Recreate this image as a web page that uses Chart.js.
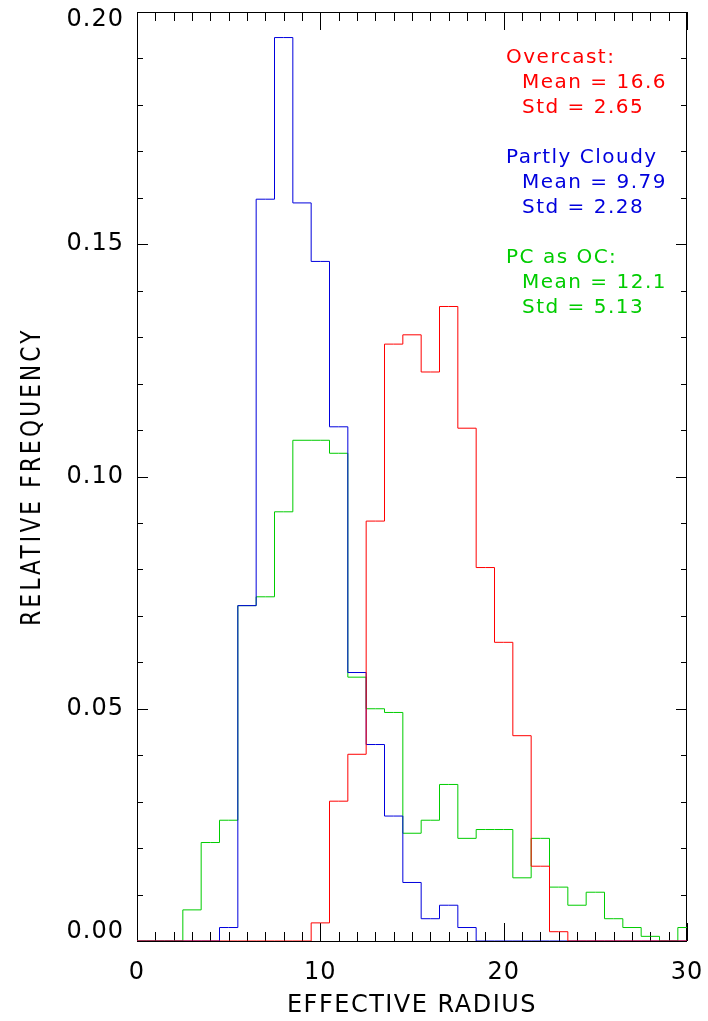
<!DOCTYPE html>
<html>
<head>
<meta charset="utf-8">
<script src="https://cdn.jsdelivr.net/npm/chart.js@4/dist/chart.umd.min.js"></script>
<style>
  html, body { margin: 0; padding: 0; background: #fff; }
  canvas { display: block; }
</style>
</head>
<body>
<canvas id="hist" width="708" height="1021"></canvas>
<script>
// bin centres of effective radius (one unit wide)
const radius = [0,1,2,3,4,5,6,7,8,9,10,11,12,13,14,15,16,17,18,19,20,21,22,23,24,25,26,27,28,29,30];

// relative frequency per bin
const overcast = [0,0,0,0,0,0,0,0,0,0,0.0039,0.0301,0.0402,0.0904,0.1285,0.1305,0.1225,0.1366,0.1104,0.0804,0.0643,0.0442,0.0161,0.0020,0,0,0,0,0,0,0];
const partlyCloudy = [0,0,0,0,0,0.0029,0.0722,0.1597,0.1945,0.1589,0.1463,0.1107,0.0578,0.0423,0.0269,0.0126,0.0048,0.0077,0.0029,0,0,0,0,0,0,0,0,0,0,0,0];
const pcAsOc = [0,0,0,0.0067,0.0212,0.0260,0.0722,0.0741,0.0924,0.1078,0.1078,0.1050,0.0568,0.0500,0.0492,0.0232,0.0260,0.0337,0.0221,0.0240,0.0240,0.0136,0.0221,0.0116,0.0077,0.0105,0.0048,0.0029,0.0010,0,0.0029];

const xTicks = [0,10,20,30];
const yTicks = [0,0.05,0.10,0.15,0.20];

// stats blocks printed in the upper right
const notes = [
  { color: '#ff0000', lines: ['Overcast:', 'Mean = 16.6', 'Std = 2.65'] },
  { color: '#0000dd', lines: ['Partly Cloudy', 'Mean = 9.79', 'Std = 2.28'] },
  { color: '#00cc00', lines: ['PC as OC:', 'Mean = 12.1', 'Std = 5.13'] }
];

const FONT = '"DejaVu Sans", sans-serif';
Chart.defaults.font.family = FONT;

const pts = arr => radius.map((r, i) => ({ x: r, y: arr[i] }));

// box, inward ticks, axis titles and the stats text
const frame = {
  id: 'frame',
  afterLayout(chart) {
    // keep the end labels of the y axis inside the box
    const items = chart.scales.y.getLabelItems();
    items[0].options.translation[1] -= 9;
    items[items.length - 1].options.translation[1] += 8;
  },
  beforeDraw(chart) { chart.ctx.letterSpacing = '1px'; },
  beforeDatasetsDraw(chart) {
    const { ctx, chartArea: a, scales: { x, y } } = chart;
    ctx.save();
    ctx.strokeStyle = '#000';
    ctx.lineWidth = 1;
    ctx.strokeRect(a.left + 0.5, a.top + 0.5, a.right - a.left - 1, a.bottom - a.top);
    ctx.beginPath();
    for (let v = 0; v <= 30; v++) {
      const px = Math.round(x.getPixelForValue(v)) + 0.5;
      const len = v % 10 === 0 ? 18 : 9;
      ctx.moveTo(px, a.bottom); ctx.lineTo(px, a.bottom - len);
      ctx.moveTo(px, a.top); ctx.lineTo(px, a.top + len);
    }
    for (let i = 0; i <= 20; i++) {
      const py = Math.round(y.getPixelForValue(i / 100)) + 0.5;
      const len = i % 5 === 0 ? 11 : 6;
      ctx.moveTo(a.left, py); ctx.lineTo(a.left + len, py);
      ctx.moveTo(a.right, py); ctx.lineTo(a.right - len, py);
    }
    ctx.stroke();
    ctx.restore();
  },
  afterDraw(chart) {
    const { ctx, chartArea: a } = chart;
    ctx.save();
    ctx.fillStyle = '#000';
    ctx.textAlign = 'center';
    ctx.textBaseline = 'middle';

    ctx.font = '24px ' + FONT;
    ctx.letterSpacing = '1.5px';
    ctx.fillText('EFFECTIVE RADIUS', (a.left + a.right) / 2, a.bottom + 65);

    ctx.save();
    ctx.translate(33, (a.top + a.bottom) / 2);
    ctx.rotate(-Math.PI / 2);
    ctx.scale(0.8, 1);
    ctx.font = '27px ' + FONT;
    ctx.letterSpacing = '4px';
    ctx.fillText('RELATIVE FREQUENCY', 0, 0);
    ctx.restore();

    ctx.textAlign = 'left';
    ctx.font = '20px ' + FONT;
    ctx.letterSpacing = '1.5px';
    notes.forEach((n, b) => {
      ctx.fillStyle = n.color;
      n.lines.forEach((t, i) => {
        const dx = i === 0 ? 369 : 385;
        ctx.fillText(t, a.left + dx, a.top + 46 + b * 100 + i * 25);
      });
    });
    ctx.restore();
  }
};

const line = (data, color) => ({
  data: pts(data), borderColor: color, borderWidth: 1,
  stepped: 'middle', pointRadius: 0, fill: false
});

new Chart(document.getElementById('hist'), {
  type: 'line',
  data: {
    datasets: [
      line(overcast, '#ff0000'),
      line(partlyCloudy, '#0000dd'),
      line(pcAsOc, '#00cc00')
    ]
  },
  options: {
    responsive: false,
    animation: false,
    devicePixelRatio: 1,
    events: [],
    layout: { padding: { left: 0, top: 12, right: 21, bottom: 0 } },
    plugins: { legend: { display: false }, tooltip: { enabled: false } },
    scales: {
      x: {
        type: 'linear', min: 0, max: 30,
        grid: { display: false, drawTicks: false },
        border: { display: false },
        ticks: { color: '#000', padding: 17, font: { size: 24 }, maxRotation: 0, callback: v => String(v) },
        afterBuildTicks: s => { s.ticks = xTicks.map(v => ({ value: v })); },
        afterFit: s => { s.height = 80; s.paddingLeft = 0; s.paddingRight = 0; }
      },
      y: {
        type: 'linear', min: 0, max: 0.2,
        grid: { display: false, drawTicks: false },
        border: { display: false },
        ticks: { color: '#000', padding: 13, font: { size: 24 }, callback: v => v.toFixed(2) },
        afterBuildTicks: s => { s.ticks = yTicks.map(v => ({ value: v })); },
        afterFit: s => { s.width = 137; s.paddingTop = 0; s.paddingBottom = 0; }
      }
    }
  },
  plugins: [frame]
});
</script>
</body>
</html>
